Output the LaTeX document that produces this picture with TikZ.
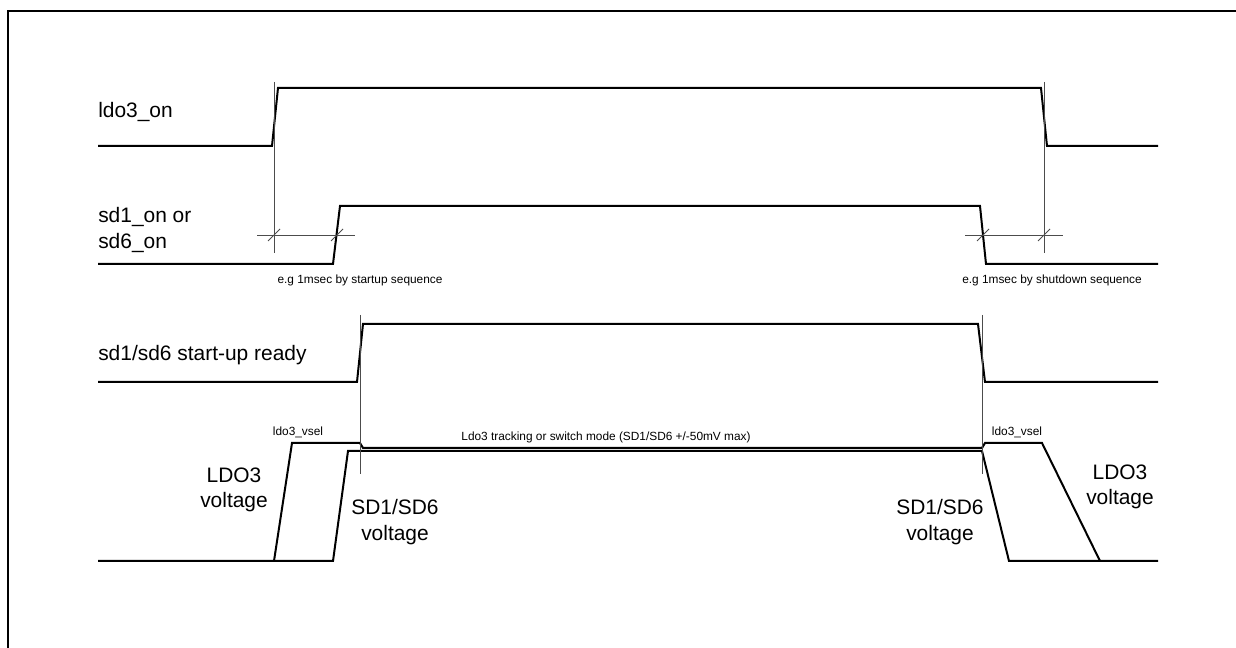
\documentclass[tikz,border=0pt]{standalone}
\usepackage{fontspec}
\setmainfont{Liberation Sans}
\begin{document}
\begin{tikzpicture}[x=0.75pt,y=-0.75pt,
  signal/.style={line width=1.5pt, line join=miter},
  guide/.style={line width=0.6pt, black!70},
  biglabel/.style={font=\fontsize{15.7}{19}\selectfont, align=center, inner sep=0pt},
  smalllabel/.style={font=\fontsize{8.9}{10}\selectfont, inner sep=0pt}]

\useasboundingbox (0,0) rectangle (1236,648);
\draw[line width=1.5pt] (8,648) -- (8,11) -- (1236,11);

% signals
\draw[signal] (98,146) -- (272,146) -- (278,88) -- (1041,88) -- (1047,146) -- (1158,146);
\draw[signal] (98,264) -- (333,264) -- (340,206) -- (980,206) -- (986,264) -- (1158,264);
\draw[signal] (98,382) -- (357,382) -- (363,324) -- (978,324) -- (985,382) -- (1158,382);

% voltages
\draw[signal] (98,561) -- (274,561) -- (292,443) -- (360,443) -- (363,448) -- (982,448)
    -- (985,443) -- (1042,443) -- (1100,561) -- (1158,561);
\draw[signal] (274,561) -- (333,561) -- (348,451) -- (982,451) -- (1009,561) -- (1100,561);

% guide lines
\draw[guide] (274,82) -- (274,253);
\draw[guide] (1044,82) -- (1044,253);
\draw[guide] (360,315) -- (360,474);
\draw[guide] (982,315) -- (982,474);
\draw[guide] (257,235) -- (355,235);
\draw[guide] (965,235) -- (1063,235);
\foreach \x in {274,337,983,1044}
{
    \draw[guide] (\x,235) ++(-6,6) -- ++(12,-12);
}

% labels
\node[biglabel, anchor=west] (ldoon) at (98,112) {ldo3\_on};
\node[biglabel, anchor=west, align=left] (sdon) at (98,230) {sd1\_on or\\sd6\_on};
\node[biglabel, anchor=west] (ready) at (98,355) {sd1/sd6 start-up ready};

\node[smalllabel] (startup) at (360,280) {e.g 1msec by startup sequence};
\node[smalllabel] (shutdown) at (1052,280) {e.g 1msec by shutdown sequence};
\node[smalllabel] (vselL) at (298,432) {ldo3\_vsel};
\node[smalllabel] (vselR) at (1017,432) {ldo3\_vsel};
\node[smalllabel] (track) at (606,437) {Ldo3 tracking or switch mode (SD1/SD6 +/-50mV max)};

\node[biglabel] (ldovL) at (234,490) {LDO3\\voltage};
\node[biglabel] (sdvL) at (395,522) {SD1/SD6\\voltage};
\node[biglabel] (sdvR) at (940,522) {SD1/SD6\\voltage};
\node[biglabel] (ldovR) at (1120,487) {LDO3\\voltage};

\end{tikzpicture}
\end{document}
